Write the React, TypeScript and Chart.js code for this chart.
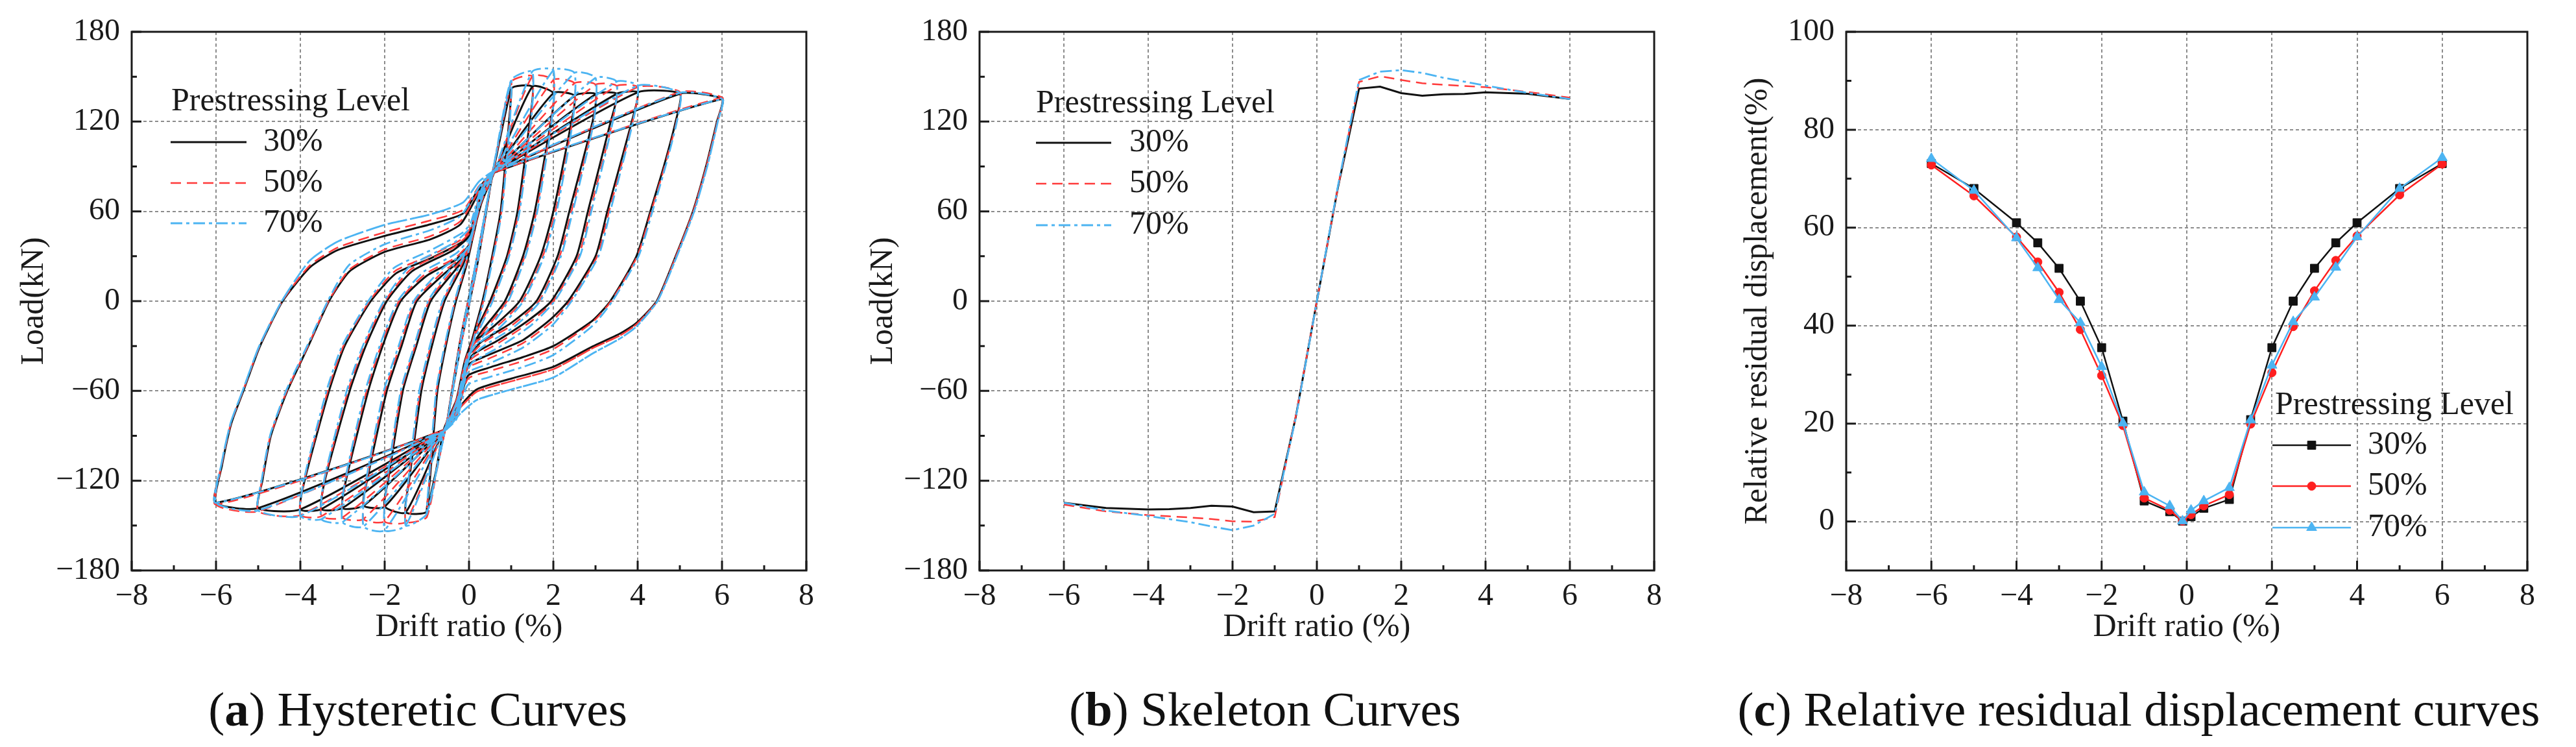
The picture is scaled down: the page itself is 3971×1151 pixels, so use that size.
import React, { useEffect, useRef } from "react";
import { Chart, registerables } from "chart.js";

Chart.register(...registerables);

const FONT = '"Liberation Serif", "Times New Roman", Times, serif';
Chart.defaults.font.family = FONT;
const INK = "#1a1a1a";
const C30 = "#111111";
const C50 = "#ff3a3a";
const C70 = "#4cb4f2";

// ---------- labels / ticks ----------
const levelLabels = ["30%", "50%", "70%"];
const legendTitle = "Prestressing Level";
const xTitle = "Drift ratio (%)";
const loadTitle = "Load(kN)";
const resTitle = "Relative residual displacement(%)";
const captionA = ["a", " Hysteretic Curves"];
const captionB = ["b", " Skeleton Curves"];
const captionC = ["c", " Relative residual displacement curves"];

const xTicks = [-8, -6, -4, -2, 0, 2, 4, 6, 8];
const xMinor = [-7, -5, -3, -1, 1, 3, 5, 7];
const xGrid = [-6, -4, -2, 0, 2, 4, 6];
const loadTicks = [-180, -120, -60, 0, 60, 120, 180];
const loadMinor = [-150, -90, -30, 30, 90, 150];
const loadGrid = [-120, -60, 0, 60, 120];
const resTicks = [0, 20, 40, 60, 80, 100];
const resMinor = [10, 30, 50, 70, 90];
const resGrid = [0, 20, 40, 60, 80];

// ---------- (b) skeleton curves ----------
const skelX = [-6, -5, -4, -3.5, -3, -2.5, -2, -1.5, -1, -0.5, 0, 0.5, 1, 1.5, 2, 2.5, 3, 3.5, 4, 5, 6];
const skel30 = [-134.8, -138.3, -139.2, -139, -138.3, -136.7, -137.3, -141.1, -140.5, -77.3, 0, 76, 142, 143.3, 139, 137.3, 138.3, 138.5, 139.5, 138.6, 135.1];
const skel50 = [-136, -140.5, -143, -143.8, -144.6, -145.6, -147.1, -147.4, -144.3, -76.7, 0, 76, 146.5, 150.3, 147.8, 145.6, 144.6, 143.8, 143, 139.8, 136];
const skel70 = [-134.8, -139.9, -143.6, -145.7, -147.7, -150.6, -153.1, -150, -142.1, -78, 0, 77, 147.8, 153.4, 154.4, 152.5, 149.3, 146.7, 144, 139.2, 135.1];

// ---------- (c) relative residual displacement ----------
const resX = [-6, -5, -4, -3.5, -3, -2.5, -2, -1.5, -1, -0.4, -0.1, 0.1, 0.4, 1, 1.5, 2, 2.5, 3, 3.5, 4, 5, 6];
const res30 = [73.1, 68.0, 61.0, 56.9, 51.7, 45.0, 35.5, 20.5, 4.2, 2.0, 0.1, 1.0, 2.7, 4.5, 20.8, 35.5, 45.0, 51.7, 56.9, 61.0, 68.0, 73.1];
const res50 = [72.8, 66.5, 58.1, 53.0, 46.8, 39.2, 29.8, 19.6, 4.8, 2.3, 0.1, 1.4, 3.2, 5.5, 19.9, 30.4, 39.8, 47.1, 53.3, 58.3, 66.7, 73.0];
const res70 = [74.1, 67.6, 57.9, 51.8, 45.3, 40.6, 31.6, 20.1, 6.0, 3.2, 0.1, 2.3, 4.2, 6.9, 20.7, 31.9, 40.8, 45.8, 51.9, 58.1, 68.0, 74.3];

// ---------- (a) hysteretic curves ----------
// loading amplitudes (drift %), peaks come from the skeleton arrays
const hystAmps = [0.5, 1, 1.5, 2, 2.5, 3, 3.5, 4, 5, 6];

// unloading branches from each positive peak down to the negative pinch
const desc30 = [
  [[0.2, 25], [-0.2, -30]],
  [[0.95, 120], [0.75, 60], [0.55, 30], [0.32, 0], [0.08, -25], [-0.25, -62], [-0.55, -85]],
  [[1.44, 120], [1.15, 60], [0.9, 30], [0.5, 0], [0.1, -24], [-0.1, -40], [-0.3, -66], [-0.6, -86]],
  [[1.94, 120], [1.56, 60], [1.28, 30], [0.85, 0], [0.3, -20], [-0.02, -34], [-0.3, -68], [-0.6, -86]],
  [[2.43, 120], [2.0, 60], [1.7, 30], [1.2, 0], [0.62, -16], [0.1, -28], [-0.05, -38], [-0.3, -70], [-0.6, -86]],
  [[2.93, 120], [2.38, 60], [2.1, 30], [1.6, 0], [1.0, -14.6], [0.3, -27], [-0.05, -38], [-0.3, -72], [-0.6, -86]],
  [[3.36, 120], [2.82, 60], [2.55, 30], [1.95, 0], [1.4, -13], [0.7, -26], [0.08, -36], [-0.1, -46], [-0.3, -72], [-0.6, -86]],
  [[3.86, 120], [3.28, 60], [3.0, 30], [2.35, 0], [1.9, -13], [1.28, -26], [0.46, -36], [-0.03, -43], [-0.3, -74], [-0.6, -86]],
  [[4.9, 120], [4.62, 90], [4.3, 60], [3.97, 30], [3.35, 0], [2.93, -13], [2.0, -30], [1.28, -37.4], [0.46, -44.6], [-0.03, -50], [-0.3, -76], [-0.6, -86]],
  [[5.88, 120], [5.62, 90], [5.31, 60], [4.9, 30], [4.45, 0], [3.97, -14.6], [3.58, -21.7], [2.93, -30.3], [2.0, -43.9], [1.01, -51.7], [0.19, -58.9], [-0.2, -70], [-0.6, -86]],
];
// reloading branches from each negative peak up to the positive pinch
const asc30 = [
  [[-0.2, -25], [0.2, 30]],
  [[-0.93, -120], [-0.75, -60], [-0.55, -30], [-0.31, 0], [-0.05, 25], [0.25, 62], [0.55, 85]],
  [[-1.42, -120], [-1.13, -60], [-0.88, -30], [-0.58, 0], [-0.15, 24], [0.05, 40], [0.3, 66], [0.6, 86]],
  [[-1.92, -120], [-1.57, -60], [-1.25, -30], [-0.91, 0], [-0.35, 20], [0.0, 33], [0.3, 68], [0.6, 86]],
  [[-2.42, -120], [-1.95, -60], [-1.6, -30], [-1.24, 0], [-0.6, 18], [-0.1, 30], [0.05, 40], [0.3, 70], [0.6, 86]],
  [[-2.92, -120], [-2.39, -60], [-2.05, -30], [-1.62, 0], [-1.0, 17], [-0.3, 28], [0.05, 40], [0.3, 72], [0.6, 86]],
  [[-3.42, -120], [-2.83, -60], [-2.45, -30], [-1.95, 0], [-1.35, 20], [-0.36, 34.3], [0.05, 45], [0.3, 72], [0.6, 86]],
  [[-3.9, -120], [-3.32, -60], [-2.95, -30], [-2.33, 0], [-1.73, 18.6], [-0.91, 28.6], [-0.14, 40], [0.05, 48], [0.3, 74], [0.6, 86]],
  [[-4.9, -120], [-4.7, -90], [-4.31, -60], [-3.81, -30], [-3.32, 0], [-2.83, 20], [-2.0, 32.9], [-0.91, 41.4], [-0.2, 51.4], [0.3, 76], [0.6, 86]],
  [[-5.86, -110], [-5.64, -82], [-5.35, -60], [-4.96, -30.3], [-4.42, 0], [-3.76, 22.9], [-3.1, 34.3], [-2.0, 43.6], [-0.91, 51.4], [-0.14, 58.6], [0.24, 75.7], [0.6, 86]],
];
const desc50 = [
  [[0.2, 25], [-0.2, -30]],
  [[0.96, 120], [0.77, 60], [0.57, 30], [0.34, 0], [0.1, -25], [-0.25, -62], [-0.55, -85]],
  [[1.46, 120], [1.18, 60], [0.93, 30], [0.54, 0], [0.12, -24], [-0.1, -41], [-0.3, -67], [-0.6, -86]],
  [[1.95, 120], [1.6, 60], [1.32, 30], [0.9, 0], [0.33, -21], [-0.02, -35], [-0.3, -69], [-0.6, -86]],
  [[2.45, 120], [2.05, 60], [1.75, 30], [1.26, 0], [0.66, -17], [0.1, -29], [-0.05, -40], [-0.3, -71], [-0.6, -86]],
  [[2.95, 120], [2.43, 60], [2.15, 30], [1.66, 0], [1.05, -15.5], [0.3, -28.5], [-0.05, -40], [-0.3, -73], [-0.6, -86]],
  [[3.4, 120], [2.87, 60], [2.6, 30], [2.0, 0], [1.45, -14], [0.7, -28], [0.08, -38], [-0.1, -48], [-0.3, -73], [-0.6, -86]],
  [[3.88, 120], [3.32, 60], [3.04, 30], [2.4, 0], [1.95, -14], [1.28, -28], [0.46, -38.5], [-0.03, -45], [-0.3, -75], [-0.6, -86]],
  [[4.92, 120], [4.64, 90], [4.32, 60], [3.99, 30], [3.37, 0], [2.93, -14], [2.0, -32], [1.28, -40], [0.46, -47], [-0.03, -52], [-0.3, -77], [-0.6, -86]],
  [[5.89, 120], [5.63, 90], [5.32, 60], [4.91, 30], [4.46, 0], [3.97, -15.5], [3.58, -23], [2.93, -31.5], [2.0, -45.5], [1.01, -53.5], [0.19, -60.5], [-0.2, -71], [-0.6, -86]],
];
const asc50 = [
  [[-0.2, -25], [0.2, 30]],
  [[-0.94, -120], [-0.77, -60], [-0.57, -30], [-0.33, 0], [-0.07, 25], [0.25, 63], [0.55, 85]],
  [[-1.43, -120], [-1.16, -60], [-0.91, -30], [-0.61, 0], [-0.17, 25], [0.05, 41], [0.3, 67], [0.6, 86]],
  [[-1.93, -120], [-1.6, -60], [-1.28, -30], [-0.95, 0], [-0.38, 21], [0.0, 34], [0.3, 69], [0.6, 86]],
  [[-2.43, -120], [-1.99, -60], [-1.64, -30], [-1.28, 0], [-0.64, 19], [-0.1, 31], [0.05, 41], [0.3, 71], [0.6, 86]],
  [[-2.93, -120], [-2.43, -60], [-2.09, -30], [-1.66, 0], [-1.04, 18], [-0.3, 29.5], [0.05, 41], [0.3, 73], [0.6, 86]],
  [[-3.43, -120], [-2.87, -60], [-2.49, -30], [-1.99, 0], [-1.39, 21], [-0.36, 36], [0.05, 47], [0.3, 73], [0.6, 86]],
  [[-3.91, -120], [-3.35, -60], [-2.98, -30], [-2.36, 0], [-1.76, 20], [-0.91, 30.5], [-0.14, 42], [0.05, 50], [0.3, 75], [0.6, 86]],
  [[-4.91, -120], [-4.71, -90], [-4.32, -60], [-3.82, -30], [-3.33, 0], [-2.84, 21], [-2.0, 34.5], [-0.91, 43.5], [-0.2, 53.5], [0.3, 77], [0.6, 86]],
  [[-5.87, -110], [-5.65, -82], [-5.36, -60], [-4.97, -30.3], [-4.43, 0], [-3.77, 24], [-3.1, 36], [-2.0, 46], [-0.91, 54], [-0.14, 61], [0.24, 77], [0.6, 86]],
];
const desc70 = [
  [[0.2, 26], [-0.2, -31]],
  [[0.97, 120], [0.78, 60], [0.58, 30], [0.35, 0], [0.1, -27], [-0.25, -64], [-0.55, -86]],
  [[1.47, 120], [1.2, 60], [0.95, 30], [0.56, 0], [0.13, -26], [-0.1, -43], [-0.3, -69], [-0.6, -87]],
  [[1.96, 120], [1.62, 60], [1.34, 30], [0.93, 0], [0.35, -23], [-0.02, -37], [-0.3, -71], [-0.6, -87]],
  [[2.46, 120], [2.08, 60], [1.78, 30], [1.29, 0], [0.68, -19], [0.1, -31], [-0.05, -42], [-0.3, -73], [-0.6, -87]],
  [[2.96, 120], [2.46, 60], [2.18, 30], [1.69, 0], [1.08, -17], [0.3, -31], [-0.05, -42], [-0.3, -75], [-0.6, -87]],
  [[3.41, 120], [2.9, 60], [2.63, 30], [2.03, 0], [1.48, -16], [0.7, -31], [0.08, -41], [-0.1, -51], [-0.3, -75], [-0.6, -87]],
  [[3.89, 120], [3.35, 60], [3.07, 30], [2.43, 0], [1.98, -16], [1.28, -31], [0.46, -42], [-0.03, -48], [-0.3, -77], [-0.6, -87]],
  [[4.93, 120], [4.66, 90], [4.35, 60], [4.02, 30], [3.4, 0], [2.93, -16.5], [2.0, -36], [1.28, -44], [0.46, -51], [-0.03, -56], [-0.3, -79], [-0.6, -87]],
  [[5.9, 120], [5.65, 90], [5.34, 60], [4.93, 30], [4.47, 0], [3.97, -17], [3.58, -25], [2.93, -35], [2.0, -51], [1.01, -59], [0.19, -66], [-0.2, -75], [-0.6, -87]],
];
const asc70 = [
  [[-0.2, -26], [0.2, 31]],
  [[-0.95, -120], [-0.78, -60], [-0.58, -30], [-0.34, 0], [-0.07, 27], [0.25, 64], [0.55, 86]],
  [[-1.44, -120], [-1.18, -60], [-0.93, -30], [-0.63, 0], [-0.17, 27], [0.05, 43], [0.3, 69], [0.6, 87]],
  [[-1.94, -120], [-1.62, -60], [-1.3, -30], [-0.97, 0], [-0.4, 23], [0.0, 37], [0.3, 71], [0.6, 87]],
  [[-2.44, -120], [-2.02, -60], [-1.67, -30], [-1.31, 0], [-0.66, 21], [-0.1, 33], [0.05, 43], [0.3, 73], [0.6, 87]],
  [[-2.94, -120], [-2.46, -60], [-2.12, -30], [-1.69, 0], [-1.06, 20], [-0.3, 32], [0.05, 44], [0.3, 75], [0.6, 87]],
  [[-3.44, -120], [-2.9, -60], [-2.52, -30], [-2.02, 0], [-1.41, 23], [-0.36, 39], [0.05, 50], [0.3, 75], [0.6, 87]],
  [[-3.92, -120], [-3.38, -60], [-3.01, -30], [-2.39, 0], [-1.79, 22], [-0.91, 34], [-0.14, 46], [0.05, 53], [0.3, 77], [0.6, 87]],
  [[-4.92, -120], [-4.72, -90], [-4.34, -60], [-3.84, -30], [-3.35, 0], [-2.85, 24], [-2.0, 38], [-0.91, 47.5], [-0.2, 57], [0.3, 79], [0.6, 87]],
  [[-5.88, -110], [-5.66, -82], [-5.37, -60], [-4.98, -30.3], [-4.44, 0], [-3.78, 27], [-3.1, 40], [-2.0, 51], [-0.91, 58], [-0.14, 66], [0.24, 80], [0.6, 87]],
];

// ---------- helpers to build library tables ----------
type P = { x: number; y: number };
function pairs(xs: number[], ys: number[]): P[] {
  return xs.map((x, i) => ({ x, y: ys[i] }));
}
function buildHyst(skel: number[], desc: number[][][], asc: number[][][]): P[] {
  const at = (x: number) => skel[skelX.indexOf(x)];
  const pts: P[] = [{ x: 0, y: 0 }];
  const add = (arr: number[][]) => arr.forEach(([x, y]) => pts.push({ x, y }));
  hystAmps.forEach((a, k) => {
    if (k > 0) pts.push({ x: hystAmps[k - 1], y: at(hystAmps[k - 1]) });
    pts.push({ x: a, y: at(a) });
    add(desc[k]);
    if (k > 0) pts.push({ x: -hystAmps[k - 1], y: at(-hystAmps[k - 1]) });
    pts.push({ x: -a, y: at(-a) });
    add(asc[k]);
  });
  const last = hystAmps.length - 1;
  const a = hystAmps[last];
  pts.push({ x: a, y: at(a) });
  add(desc[last]);
  pts.push({ x: -a, y: at(-a) });
  add(asc[last]);
  return pts;
}
const fmt = (v: number) => (v < 0 ? "\u2212" + Math.abs(v) : String(v));

// ---------- plugins ----------
const framePlugin = {
  id: "frame",
  beforeDatasetsDraw(chart: any, _a: any, o: any) {
    const { ctx, chartArea: a, scales } = chart;
    const x = scales.x;
    const y = scales.y;
    ctx.save();
    ctx.strokeStyle = "#8c8c8c";
    ctx.lineWidth = 2;
    ctx.setLineDash([5, 4]);
    ctx.beginPath();
    for (const v of o.xGrid) {
      const p = Math.round(x.getPixelForValue(v));
      ctx.moveTo(p, a.top);
      ctx.lineTo(p, a.bottom);
    }
    for (const v of o.yGrid) {
      const p = Math.round(y.getPixelForValue(v));
      ctx.moveTo(a.left, p);
      ctx.lineTo(a.right, p);
    }
    ctx.stroke();
    ctx.restore();
  },
  afterDatasetsDraw(chart: any, _a: any, o: any) {
    const { ctx, chartArea: a, scales } = chart;
    const x = scales.x;
    const y = scales.y;
    ctx.save();
    ctx.setLineDash([]);
    ctx.strokeStyle = INK;
    ctx.lineWidth = 3;
    ctx.strokeRect(a.left, a.top, a.right - a.left, a.bottom - a.top);
    ctx.beginPath();
    const tx = (vals: number[], len: number) => {
      for (const v of vals) {
        const p = x.getPixelForValue(v);
        ctx.moveTo(p, a.bottom);
        ctx.lineTo(p, a.bottom - len);
      }
    };
    const ty = (vals: number[], len: number) => {
      for (const v of vals) {
        const p = y.getPixelForValue(v);
        ctx.moveTo(a.left, p);
        ctx.lineTo(a.left + len, p);
      }
    };
    tx(o.xMajor, 15);
    tx(o.xMinor, 8);
    ty(o.yMajor, 15);
    ty(o.yMinor, 8);
    ctx.stroke();
    ctx.restore();
  },
};

function drawMarker(ctx: CanvasRenderingContext2D, style: string, r: number, x: number, y: number) {
  ctx.beginPath();
  if (style === "rect") {
    const s = Math.SQRT1_2 * r;
    ctx.rect(x - s, y - s, 2 * s, 2 * s);
  } else if (style === "triangle") {
    let rad = 0;
    ctx.moveTo(x + Math.sin(rad) * r, y - Math.cos(rad) * r);
    rad += (2 * Math.PI) / 3;
    ctx.lineTo(x + Math.sin(rad) * r, y - Math.cos(rad) * r);
    rad += (2 * Math.PI) / 3;
    ctx.lineTo(x + Math.sin(rad) * r, y - Math.cos(rad) * r);
    ctx.closePath();
  } else {
    ctx.arc(x, y, r, 0, Math.PI * 2);
  }
  ctx.fill();
  ctx.stroke();
}

const insetLegendPlugin = {
  id: "insetLegend",
  afterDraw(chart: any, _a: any, o: any) {
    const { ctx, chartArea: a } = chart;
    ctx.save();
    ctx.font = `50px ${FONT}`;
    ctx.fillStyle = INK;
    ctx.textBaseline = "middle";
    ctx.textAlign = "left";
    ctx.fillText(o.title, a.left + o.titleX, a.top + o.titleY);
    chart.data.datasets.forEach((ds: any, i: number) => {
      const yy = a.top + o.rowY[i];
      ctx.save();
      ctx.strokeStyle = ds.borderColor;
      ctx.lineWidth = ds.borderWidth;
      ctx.setLineDash(ds.borderDash || []);
      ctx.beginPath();
      ctx.moveTo(a.left + o.lineX0, yy);
      ctx.lineTo(a.left + o.lineX1, yy);
      ctx.stroke();
      ctx.restore();
      if (ds.pointRadius > 0) {
        ctx.save();
        ctx.fillStyle = ds.pointBackgroundColor;
        ctx.strokeStyle = ds.pointBorderColor;
        ctx.lineWidth = 1;
        drawMarker(ctx, ds.pointStyle, ds.pointRadius, a.left + (o.lineX0 + o.lineX1) / 2, yy);
        ctx.restore();
      }
      ctx.fillStyle = INK;
      ctx.fillText(ds.label, a.left + o.textX, yy);
    });
    ctx.restore();
  },
};

// ---------- config ----------
function makeConfig(p: any) {
  return {
    type: "line",
    data: { datasets: p.datasets },
    options: {
      responsive: false,
      animation: false,
      events: [],
      layout: { padding: { left: 0, top: 49, right: p.rightPad, bottom: 0 } },
      plugins: {
        legend: { display: false },
        tooltip: { enabled: false },
        frame: { xGrid, yGrid: p.yGrid, xMajor: xTicks, xMinor, yMajor: p.yTicks, yMinor: p.yMinor },
        insetLegend: p.legend,
      },
      scales: {
        x: {
          type: "linear",
          min: -8,
          max: 8,
          afterBuildTicks: (s: any) => {
            s.ticks = xTicks.map((v) => ({ value: v }));
          },
          afterFit: (s: any) => {
            s.height = 131;
          },
          grid: { display: false, drawTicks: false },
          border: { display: false },
          ticks: {
            font: { family: FONT, size: 48 },
            color: INK,
            padding: 12,
            maxRotation: 0,
            autoSkip: false,
            callback: (v: any) => fmt(Number(v)),
          },
          title: {
            display: true,
            text: xTitle,
            font: { family: FONT, size: 50 },
            color: INK,
            padding: { top: 0, bottom: 13 },
          },
        },
        y: {
          type: "linear",
          min: p.yMin,
          max: p.yMax,
          afterBuildTicks: (s: any) => {
            s.ticks = p.yTicks.map((v: number) => ({ value: v }));
          },
          afterFit: (s: any) => {
            s.width = p.yWidth;
          },
          grid: { display: false, drawTicks: false },
          border: { display: false },
          ticks: {
            font: { family: FONT, size: 48 },
            color: INK,
            padding: 18,
            autoSkip: false,
            callback: (v: any) => fmt(Number(v)),
          },
          title: {
            display: true,
            text: p.yTitle,
            font: { family: FONT, size: 50 },
            color: INK,
            padding: { top: p.yTitlePad, bottom: 0 },
          },
        },
      },
    },
    plugins: [framePlugin, insetLegendPlugin],
  };
}

const lineStyles = [
  { color: C30, width: 3, dash: [] as number[], order: 3 },
  { color: C50, width: 2.5, dash: [16, 9], order: 2 },
  { color: C70, width: 2.8, dash: [18, 6, 5, 6], order: 1 },
];

function hystConfig() {
  const data = [buildHyst(skel30, desc30, asc30), buildHyst(skel50, desc50, asc50), buildHyst(skel70, desc70, asc70)];
  return makeConfig({
    datasets: data.map((d, i) => ({
      label: levelLabels[i],
      data: d,
      borderColor: lineStyles[i].color,
      borderWidth: lineStyles[i].width,
      borderDash: lineStyles[i].dash,
      order: lineStyles[i].order,
      pointRadius: 0,
      tension: 0.2,
      fill: false,
    })),
    yMin: -180,
    yMax: 180,
    yTicks: loadTicks,
    yMinor: loadMinor,
    yGrid: loadGrid,
    yTitle: loadTitle,
    yWidth: 203,
    yTitlePad: 23,
    rightPad: 47,
    legend: { title: legendTitle, titleX: 61, titleY: 108, lineX0: 60, lineX1: 177, textX: 203, rowY: [170, 233, 295] },
  });
}

function skelConfig() {
  const data = [pairs(skelX, skel30), pairs(skelX, skel50), pairs(skelX, skel70)];
  return makeConfig({
    datasets: data.map((d, i) => ({
      label: levelLabels[i],
      data: d,
      borderColor: lineStyles[i].color,
      borderWidth: lineStyles[i].width,
      borderDash: lineStyles[i].dash,
      order: lineStyles[i].order,
      pointRadius: 0,
      tension: 0,
      fill: false,
    })),
    yMin: -180,
    yMax: 180,
    yTicks: loadTicks,
    yMinor: loadMinor,
    yGrid: loadGrid,
    yTitle: loadTitle,
    yWidth: 210,
    yTitlePad: 32,
    rightPad: 50,
    legend: { title: legendTitle, titleX: 87, titleY: 111, lineX0: 87, lineX1: 203, textX: 231, rowY: [171, 234, 298] },
  });
}

const markerStyles = [
  { style: "rect", radius: 9, color: "#111111" },
  { style: "circle", radius: 6.5, color: "#ff1f1f" },
  { style: "triangle", radius: 9, color: "#4cb4f2" },
];

function resConfig() {
  const data = [pairs(resX, res30), pairs(resX, res50), pairs(resX, res70)];
  return makeConfig({
    datasets: data.map((d, i) => ({
      label: levelLabels[i],
      data: d,
      borderColor: markerStyles[i].color,
      borderWidth: 2.5,
      borderDash: [],
      order: 3 - i,
      pointStyle: markerStyles[i].style,
      pointRadius: markerStyles[i].radius,
      pointBackgroundColor: markerStyles[i].color,
      pointBorderColor: markerStyles[i].color,
      pointBorderWidth: 1,
      tension: 0,
      fill: false,
    })),
    yMin: -10,
    yMax: 100,
    yTicks: resTicks,
    yMinor: resMinor,
    yGrid: resGrid,
    yTitle: resTitle,
    yWidth: 226,
    yTitlePad: 60,
    rightPad: 54,
    legend: { title: legendTitle, titleX: 661, titleY: 576, lineX0: 657, lineX1: 778, textX: 804, rowY: [637, 700, 764] },
  });
}

function ChartPanel({ left, width, height, build }: { left: number; width: number; height: number; build: () => any }) {
  const ref = useRef<HTMLCanvasElement>(null);
  useEffect(() => {
    let chart: any = null;
    let alive = true;
    const make = () => {
      if (alive && ref.current && !chart) chart = new Chart(ref.current, build());
    };
    const fonts = (document as any).fonts;
    if (fonts && fonts.load) {
      Promise.all([fonts.load('48px "Liberation Serif"'), fonts.load('50px "Liberation Serif"')]).then(make, make);
    } else {
      make();
    }
    return () => {
      alive = false;
      if (chart) chart.destroy();
    };
  }, []);
  return (
    <canvas
      ref={ref}
      width={width}
      height={height}
      style={{ position: "absolute", left, top: 0, width, height }}
    />
  );
}

function Caption({ center, parts }: { center: number; parts: string[] }) {
  const w = 1400;
  return (
    <div
      style={{
        position: "absolute",
        left: center - w / 2,
        top: 1055,
        width: w,
        textAlign: "center",
        fontFamily: FONT,
        fontSize: 75,
        lineHeight: "75px",
        color: "#111",
        whiteSpace: "nowrap",
      }}
    >
      (<b>{parts[0]}</b>){parts[1]}
    </div>
  );
}

export default function App() {
  return (
    <div
      style={{
        position: "absolute",
        left: 0,
        top: 0,
        width: 3971,
        height: 1151,
        background: "#fff",
        overflow: "hidden",
      }}
    >
      <ChartPanel left={0} width={1290} height={1010} build={hystConfig} />
      <ChartPanel left={1300} width={1300} height={1010} build={skelConfig} />
      <ChartPanel left={2620} width={1330} height={1010} build={resConfig} />
      <Caption center={644} parts={captionA} />
      <Caption center={1950} parts={captionB} />
      <Caption center={3297} parts={captionC} />
    </div>
  );
}
